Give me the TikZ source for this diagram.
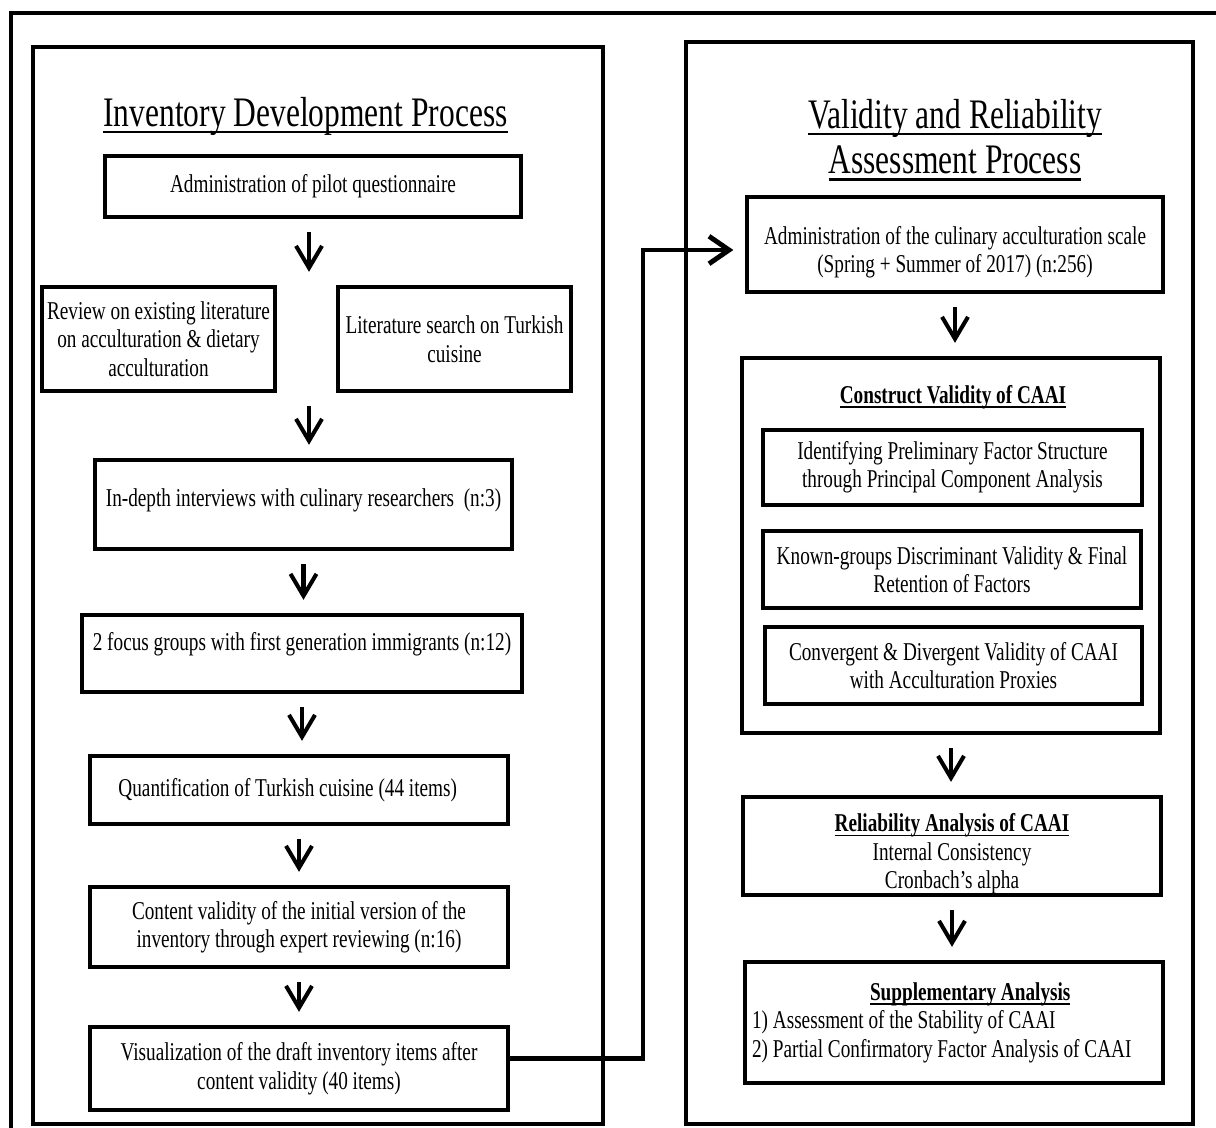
\documentclass[tikz,border=0pt]{standalone}
\usepackage{fontspec}
\setmainfont{Liberation Serif}[FakeStretch=0.75]
\usetikzlibrary{arrows.meta}

\newcommand{\pix}{0.02cm}
\newcommand{\ulined}[1]{\leavevmode\setbox0\hbox{#1}\rlap{\rule[-0.17em]{\wd0}{0.06em}}\box0}

\tikzset{
  panel/.style={draw, line width=1.9pt, inner sep=0pt},
  stage/.style={draw, line width=1.9pt, align=center, inner sep=0pt, font=\fontsize{14.6}{16.2}\selectfont},
  heading/.style={align=center, inner sep=0pt, font=\fontsize{23.9}{26}\selectfont},
  down/.style={line width=2.3pt, shorten <=0.27cm, shorten >=0.27cm, -{Straight Barb[length=0.44cm,width=0.52cm]}},
  link/.style={line width=2.8pt, shorten >=0.24cm, -{Straight Barb[length=0.4cm,width=0.55cm]}}
}

\begin{document}
\begin{tikzpicture}[x=\pix,y=-\pix]
\useasboundingbox (0,0) rectangle (1216,1128);
% frame round both parts
\draw[line width=2.3pt] (11,1140) -- (11,13) -- (1230,13);

% inventory development
\node[panel, minimum width=570*\pix, minimum height=1077*\pix] (devpanel) at (318,585.5) {};
\node[heading] (devtitle) at (305.5,116) {\ulined{Inventory Development Process}};
\node[stage, minimum width=416*\pix, minimum height=61*\pix] (pilot) at (313,186.5) {Administration of pilot questionnaire};
\node[stage, minimum width=233*\pix, minimum height=104*\pix] (review) at (158.5,339) {Review on existing literature\\on acculturation \& dietary\\acculturation};
\node[stage, minimum width=233*\pix, minimum height=104*\pix] (search) at (454.5,339) {Literature search on Turkish\\cuisine};
\node[stage, minimum width=417*\pix, minimum height=89*\pix] (interview) at (303.5,504.5) {In-depth interviews with culinary researchers\ \ (n:3)\\[-8pt]\mbox{}};
\node[stage, minimum width=440*\pix, minimum height=77*\pix] (focus) at (302,653.5) {2 focus groups with first generation immigrants (n:12)\\[-2pt]\mbox{}};
\node[stage, minimum width=418*\pix, minimum height=68*\pix] (quant) at (299,790) {Quantification of Turkish cuisine (44 items)\hspace*{0.45cm}};
\node[stage, minimum width=418*\pix, minimum height=80*\pix] (content) at (299,927) {Content validity of the initial version of the\\inventory through expert reviewing (n:16)};
\node[stage, minimum width=418*\pix, minimum height=83*\pix] (draft) at (299,1068.5) {Visualization of the draft inventory items after\\content validity (40 items)};

\draw[down] ([xshift=-0.08cm]pilot.south) -- ([xshift=-0.08cm]pilot.south |- review.north);
\draw[down] ([xshift=-0.08cm]pilot.south |- review.south) -- ([xshift=-0.08cm]pilot.south |- interview.north);
\draw[down] (interview.south) -- (interview.south |- focus.north);
\draw[down] (focus.south) -- (focus.south |- quant.north);
\draw[down] (quant.south) -- (content.north);
\draw[down] (content.south) -- (draft.north);

% validity and reliability
\node[panel, minimum width=507*\pix, minimum height=1082*\pix] (assesspanel) at (939.5,583) {};
\node[heading] (assesstitle) at (955,140) {\ulined{Validity and Reliability}\\\ulined{Assessment Process}};
\node[stage, minimum width=416*\pix, minimum height=95*\pix] (scale) at (955,244.5) {\mbox{}\\[3pt]Administration of the culinary acculturation scale\\(Spring + Summer of 2017) (n:256)};
\node[panel, minimum width=418*\pix, minimum height=375*\pix] (construct) at (951,545.5) {};
\node[stage, draw=none] (constructhead) at (953,397) {\ulined{\textbf{Construct Validity of CAAI}}};
\node[stage, minimum width=379*\pix, minimum height=75*\pix] (pca) at (952.5,467.5) {Identifying Preliminary Factor Structure\\through Principal Component Analysis};
\node[stage, minimum width=378*\pix, minimum height=77*\pix] (known) at (952,569.5) {Known-groups Discriminant Validity \& Final\\Retention of Factors};
\node[stage, minimum width=377*\pix, minimum height=77*\pix] (convergent) at (953.5,665.5) {Convergent \& Divergent Validity of CAAI\\with Acculturation Proxies};
\node[stage, minimum width=418*\pix, minimum height=98*\pix] (reliab) at (952,846) {\mbox{}\\[3pt]\ulined{\textbf{Reliability Analysis of CAAI}}\\Internal Consistency\\Cronbach's alpha};
\node[stage, minimum width=418*\pix, minimum height=121*\pix, text width=8.08cm, align=flush left] (suppl) at (954,1022.5) {\hspace*{2.36cm}\ulined{\textbf{Supplementary Analysis}}\\1) Assessment of the Stability of CAAI\\2) Partial Confirmatory Factor Analysis of CAAI};

\draw[down] (scale.south) -- (scale.south |- construct.north);
\draw[down] (construct.south) -- (construct.south |- reliab.north);
\draw[down] (reliab.south) -- (reliab.south |- suppl.north);

% from the draft items to the scale
\coordinate (bend) at (643,250);
\draw[link] ([yshift=0.2cm]draft.east) -| (bend) -- (bend -| scale.west);
\end{tikzpicture}
\end{document}
